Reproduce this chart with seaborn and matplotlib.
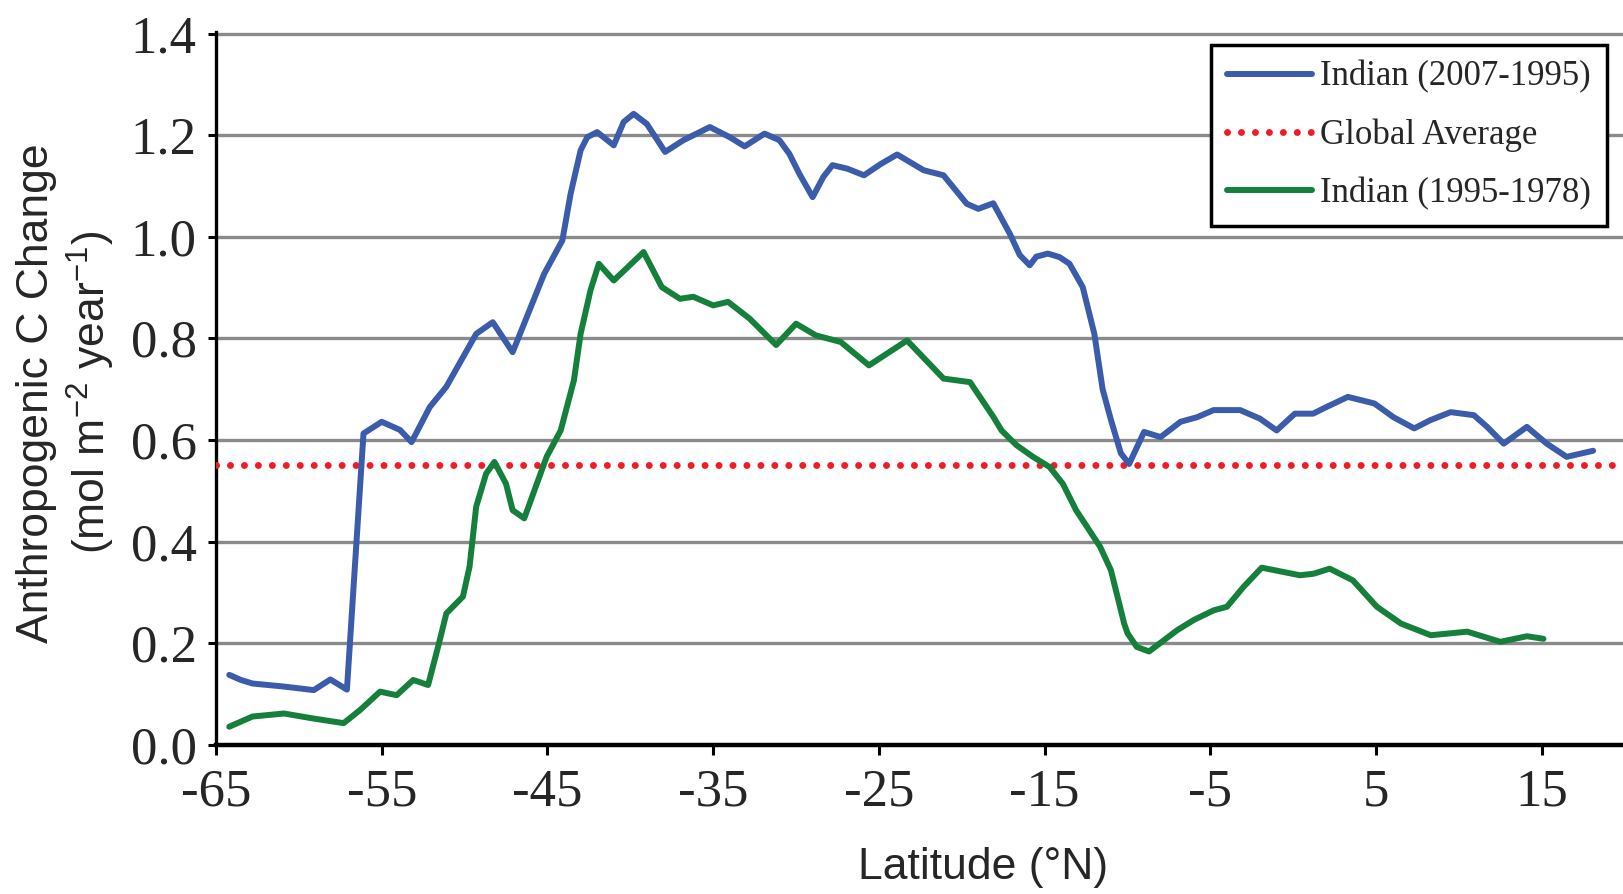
import matplotlib
matplotlib.use("Agg")
import matplotlib.pyplot as plt
import seaborn as sns
import pandas as pd

# Indian Ocean anthropogenic carbon change versus latitude
lat_2007_1995 = [-64.2, -63.5, -62.8, -60.9, -59.1, -58.1, -57.1, -56.1, -55.0, -53.9,
                 -53.2, -52.1, -51.1, -49.3, -48.3, -47.1, -45.2, -44.1, -43.6, -43.0,
                 -42.6, -42.0, -41.0, -40.4, -39.8, -39.0, -37.9, -36.8, -35.2, -34.0,
                 -33.1, -31.9, -31.0, -30.4, -29.8, -29.0, -28.35, -27.8, -26.9, -25.9,
                 -24.9, -23.9, -22.3, -21.1, -19.7, -19.0, -18.1, -17.1, -16.5, -15.9,
                 -15.5, -14.8, -14.1, -13.5, -12.7, -12.0, -11.5, -11.0, -10.4, -9.9,
                 -9.0, -8.0, -6.8, -5.8, -4.8, -3.2, -2.0, -1.0, 0.1, 1.2,
                 2.0, 3.3, 4.9, 6.05, 7.3, 8.26, 9.5, 10.9, 11.7, 12.7,
                 14.1, 15.3, 16.5, 18.1]
val_2007_1995 = [0.138, 0.128, 0.121, 0.115, 0.108, 0.129, 0.109, 0.613, 0.636, 0.620,
                 0.596, 0.665, 0.705, 0.809, 0.832, 0.773, 0.927, 0.993, 1.085, 1.170,
                 1.196, 1.206, 1.180, 1.226, 1.242, 1.222, 1.167, 1.190, 1.216, 1.196,
                 1.178, 1.203, 1.190, 1.163, 1.124, 1.078, 1.118, 1.141, 1.134, 1.121,
                 1.143, 1.162, 1.131, 1.121, 1.065, 1.055, 1.066, 1.006, 0.964, 0.944,
                 0.961, 0.967, 0.960, 0.947, 0.901, 0.809, 0.700, 0.640, 0.574, 0.553,
                 0.616, 0.606, 0.636, 0.645, 0.659, 0.659, 0.642, 0.619, 0.652, 0.652,
                 0.665, 0.685, 0.672, 0.645, 0.623, 0.639, 0.655, 0.649, 0.626, 0.593,
                 0.626, 0.593, 0.567, 0.579]

lat_1995_1978 = [-64.2, -62.8, -60.9, -59.1, -57.3, -56.3, -55.1, -54.1, -53.1, -52.2,
                 -51.5, -51.1, -50.1, -49.7, -49.3, -48.7, -48.2, -47.5, -47.1, -46.4,
                 -45.05, -44.2, -43.4, -43.0, -42.4, -41.9, -41.0, -39.2, -38.1, -37.0,
                 -36.2, -35.0, -34.1, -32.8, -31.2, -30.0, -28.8, -27.3, -25.6, -23.3,
                 -21.1, -19.5, -18.1, -17.6, -16.7, -15.7, -14.7, -13.9, -13.1, -11.65,
                 -11.0, -10.2, -10.0, -9.44, -8.7, -7.0, -6.0, -4.8, -4.0, -3.0,
                 -1.9, 0.4, 1.23, 2.2, 3.6, 5.05, 6.5, 8.3, 10.5, 11.5,
                 12.5, 14.1, 15.1]
val_1995_1978 = [0.036, 0.056, 0.062, 0.052, 0.043, 0.069, 0.105, 0.098, 0.128, 0.118,
                 0.206, 0.259, 0.292, 0.351, 0.469, 0.534, 0.557, 0.514, 0.462, 0.446,
                 0.567, 0.619, 0.718, 0.809, 0.895, 0.947, 0.914, 0.970, 0.901, 0.878,
                 0.882, 0.865, 0.872, 0.839, 0.787, 0.829, 0.806, 0.793, 0.747, 0.796,
                 0.721, 0.714, 0.646, 0.619, 0.590, 0.567, 0.547, 0.514, 0.462, 0.390,
                 0.344, 0.239, 0.220, 0.193, 0.184, 0.226, 0.246, 0.265, 0.272, 0.311,
                 0.349, 0.334, 0.337, 0.347, 0.324, 0.272, 0.239, 0.216, 0.223, 0.213,
                 0.203, 0.214, 0.209]

global_average = 0.55

series_labels = ["Indian (2007-1995)", "Global Average", "Indian (1995-1978)"]
x_ticks = [-65, -55, -45, -35, -25, -15, -5, 5, 15]
y_ticks = [0.0, 0.2, 0.4, 0.6, 0.8, 1.0, 1.2, 1.4]

BLUE = "#3b5bab"
GREEN = "#15803c"
RED = "#ee1c24"

sns.set_theme(style="white")
plt.rcParams["font.family"] = ["Liberation Serif", "DejaVu Serif"]
plt.rcParams["mathtext.default"] = "regular"

fig = plt.figure(figsize=(16.23, 8.94), dpi=100)
ax = fig.add_axes([216 / 1623, 1 - 745 / 894, 1407 / 1623, 713 / 894])

df_a = pd.DataFrame({"lat": lat_2007_1995, "val": val_2007_1995})
df_b = pd.DataFrame({"lat": lat_1995_1978, "val": val_1995_1978})

sns.lineplot(data=df_a, x="lat", y="val", ax=ax, color=BLUE, lw=4.3,
             label=series_labels[0], estimator=None, sort=True, zorder=4,
             solid_joinstyle="round", solid_capstyle="round")
ax.axhline(global_average, color=RED, lw=5.0, ls=(0, (0.01, 2.0)),
           dash_capstyle="round", label=series_labels[1], zorder=3)
sns.lineplot(data=df_b, x="lat", y="val", ax=ax, color=GREEN, lw=4.3,
             label=series_labels[2], estimator=None, sort=True, zorder=4,
             solid_joinstyle="round", solid_capstyle="round")

ax.set_xlim(-65, 19.9)
ax.set_ylim(0, 1.403)
ax.set_xticks(x_ticks)
ax.set_xticklabels([str(t) for t in x_ticks])
ax.set_yticks(y_ticks)
ax.set_yticklabels([f"{t:.1f}" for t in y_ticks])

ax.yaxis.grid(True, color="#8a8a8a", lw=2.4)
ax.xaxis.grid(False)
ax.set_axisbelow(True)

for side in ["top", "right"]:
    ax.spines[side].set_visible(False)
ax.spines["left"].set_linewidth(2.4)
ax.spines["bottom"].set_linewidth(3.2)
ax.spines["left"].set_color("black")
ax.spines["bottom"].set_color("black")

ax.tick_params(axis="y", direction="out", length=6, width=2.2, color="black",
               labelsize=38, pad=8, left=True)
ax.tick_params(axis="x", direction="out", length=7, width=2.2, color="black",
               labelsize=38, pad=10, bottom=True)

label_font = ["Liberation Sans", "DejaVu Sans"]
ax.set_xlabel("Latitude (\u00b0N)", fontsize=32, family=label_font, va="center")
ax.xaxis.set_label_coords(0.545, -0.1725)
ax.set_ylabel("Anthropogenic C Change\n(mol m$^{-2}$ year$^{-1}$)", fontsize=32,
              family=label_font, ha="center", va="center", linespacing=1.2)
ax.yaxis.set_label_coords(-0.106, 0.494)

leg = ax.legend(loc="upper right", bbox_to_anchor=(0.9886, 0.9818), borderaxespad=0,
                fontsize=25, handlelength=2.45, handletextpad=0.25, labelspacing=0.72,
                fancybox=False, framealpha=1, edgecolor="black", borderpad=0.45)
leg.get_frame().set_linewidth(2.5)

fig.savefig("out.png", dpi=100)
